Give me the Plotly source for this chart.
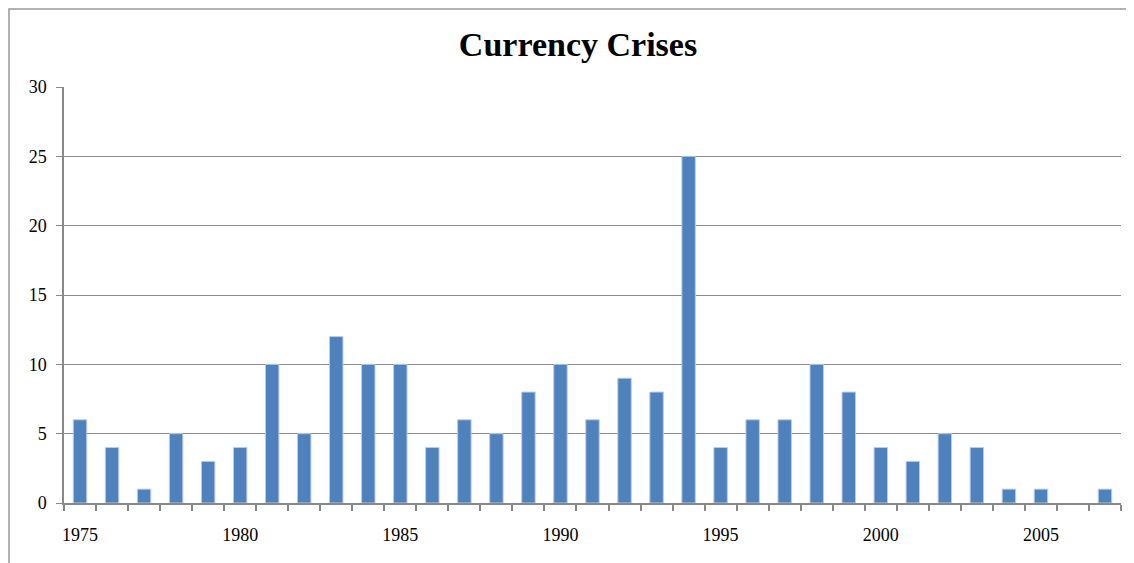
import plotly.graph_objects as go

years = list(range(1975, 2008))
crises = [6, 4, 1, 5, 3, 4, 10, 5, 12, 10, 10, 4, 6, 5, 8, 10, 6, 9, 8, 25,
          4, 6, 6, 10, 8, 4, 3, 5, 4, 1, 1, 0, 1]
xtick_labels = [1975, 1980, 1985, 1990, 1995, 2000, 2005]
ytick_vals = [0, 5, 10, 15, 20, 25, 30]

fig = go.Figure()
fig.add_trace(go.Bar(
    x=years, y=crises,
    marker=dict(color="#4F81BD", line=dict(color="#B9CDE5", width=[0 if v == 0 else 1 for v in crises])),
    width=0.42,
))

serif = "Liberation Serif, Times New Roman, serif"
tickfont = dict(family=serif, size=18, color="black")

# page body has an 8px margin; figure offset compensated
W, H = 1126, 555
fig.update_layout(
    width=W, height=H,
    margin=dict(l=56, r=13, t=79, b=60),
    paper_bgcolor="white", plot_bgcolor="white",
    showlegend=False,
    font=dict(family=serif, size=18, color="black"),
    title=dict(text="<b>Currency Crises</b>", x=(578 - 8) / W, xanchor="center",
               y=1 - (44 - 8) / H, yanchor="middle",
               font=dict(family=serif, size=34, color="black")),
    xaxis=dict(
        range=[1974.5, 2007.5],
        tickvals=xtick_labels, ticktext=[str(v) for v in xtick_labels],
        tickfont=tickfont,
        ticks="", showgrid=False,
        showline=True, linecolor="#888888", linewidth=1.5,
        ticklabelstandoff=15,
        minor=dict(ticks="outside", tick0=1974.5, dtick=1, ticklen=6, tickcolor="#888888", tickwidth=1.5, showgrid=False),
    ),
    yaxis=dict(
        range=[0, 30], tickvals=ytick_vals,
        tickfont=tickfont,
        showgrid=True, gridcolor="#8C8C8C", gridwidth=1,
        showline=True, linecolor="#888888", linewidth=1.5,
        ticks="outside", ticklen=6, tickcolor="#888888",
        zeroline=False,
        ticklabelstandoff=6,
    ),
    shapes=[dict(type="rect", xref="paper", yref="paper",
                 x0=-(64 - 9) / 1057, x1=1.05, y0=-0.3, y1=1 + 78 / 416,
                 line=dict(color="#999999", width=1.5), fillcolor="rgba(0,0,0,0)", layer="below")],
)

fig.write_html("out.html")
